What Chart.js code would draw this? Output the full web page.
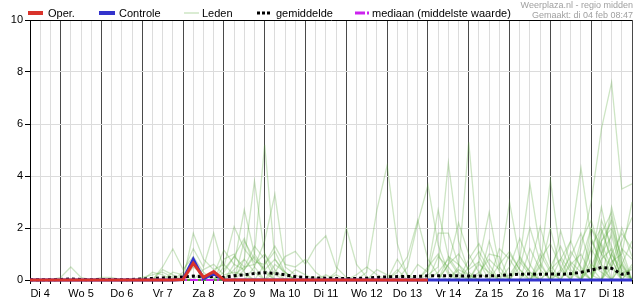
<!DOCTYPE html>
<html>
<head>
<meta charset="utf-8">
<script src="https://cdn.jsdelivr.net/npm/chart.js@4/dist/chart.umd.min.js"></script>
<style>
  body { margin: 0; background: #fff; }
  canvas { display: block; }
</style>
</head>
<body>
<canvas id="pluimChart" width="635" height="300"></canvas>
<script>
// Dagen op de x-as (label staat op 12:00), tijdstappen van 6 uur
const dagen = ['Di 4', 'Wo 5', 'Do 6', 'Vr 7', 'Za 8', 'Zo 9', 'Ma 10', 'Di 11',
               'Wo 12', 'Do 13', 'Vr 14', 'Za 15', 'Zo 16', 'Ma 17', 'Di 18'];
const uren = ['00:00', '06:00', '12:00', '18:00'];
const yTicks = [0, 2, 4, 6, 8, 10];

// Neerslag (mm) per 6 uur, vanaf di 4 06:00
const oper = [0,0,0, 0,0,0,0, 0,0,0,0, 0,0,0,0, 0.02,0.65,0.1,0.32, 0,0,0,0,
              0,0,0,0, 0,0,0,0, 0,0,0,0, 0,0,0,0, 0];
const controle = [0,0,0, 0,0,0,0, 0,0,0,0, 0,0,0,0, 0.02,0.8,0.05,0.25, 0,0,0,0,
                  0,0,0,0, 0,0,0,0, 0,0,0,0, 0,0,0,0, 0,0,0,0, 0,0,0,0,
                  0,0,0,0, 0,0,0,0, 0,0,0,0, 0];
const gemiddelde = [0.01,0.01,0.01, 0.02,0.04,0.02,0.01, 0.02,0.02,0.01,0.02,
                    0.04,0.06,0.08,0.1, 0.12,0.15,0.12,0.14, 0.1,0.16,0.2,0.25,
                    0.28,0.25,0.2,0.13, 0.1,0.08,0.07,0.06, 0.06,0.06,0.07,0.1,
                    0.12,0.13,0.13,0.14, 0.16,0.16,0.17,0.16, 0.15,0.15,0.16,0.17,
                    0.2,0.22,0.23,0.22, 0.23,0.22,0.24,0.3, 0.38,0.48,0.45,0.22, 0.28];
const mediaan = [0,0,0, 0,0,0,0, 0,0,0,0, 0,0,0,0, 0,0,0,0, 0,0,0,0,
                 0,0,0,0, 0,0,0,0, 0,0,0,0, 0,0,0,0, 0,0,0,0, 0,0,0,0,
                 0,0,0,0, 0,0,0,0, 0,0,0,0, 0];

const leden = [
  [0,0,0, 0.1,0.5,0.1,0, 0,0,0,0, 0,0,0,0.3, 0.2,0,0,0, 0,0.4,0.8,0.3, 0,0,0,0, 0,0,0,0.2, 0,0,0,0, 0,0,0,0, 0,0,0.9,0.3, 0,0,0,0, 0,0,0,0.6, 0,0,0,0, 1.2,0.5,0,0, 0],
  [0,0,0, 0,0,0,0, 0,0,0,0, 0,0,0.5,1.2, 0.4,0.9,0.3,0, 0,0,0,0, 0,0.6,0.3,0, 0,0,0,0, 0,0,0,0, 0,0,0,0, 0.5,1,0.2,0, 0,0,0,0, 0,0,0,0, 0,0.8,1.5,0.4, 0,0,1,0.2, 0],
  [0,0,0, 0,0,0,0, 0,0,0,0, 0,0,0,0, 0,1.8,0.8,0.4, 0.6,0.2,0.5,1.3, 0.8,0,0,0, 0,0,0,0, 0,0,0,0, 0,0,0,0, 0,0,0,0, 0,0.7,2.6,0.5, 0,0,0,0, 0,0,0,0, 0,1.9,0.8,0, 0.5],
  [0,0,0, 0,0,0,0, 0,0,0,0, 0,0,0,0, 0.3,1.2,0.5,1.8, 0.4,0.9,1.6,0.5, 0,0,0,0, 0,0,0,0, 0,0,0,0.4, 0.2,0,0,0, 0,0,0,0, 0,0,0,0, 0,0.9,0.3,0, 0,0,0,0, 0.8,2.8,1,0.4, 0],
  [0,0,0, 0,0,0,0, 0,0,0,0, 0,0,0,0, 0,0,0,0.2, 1.15,0.6,0.4,0.9, 0.3,0,0,0, 0,0,0,0, 0,0,0,0, 0,0.8,0.2,0, 0,0,0,0, 0,0,0,0, 0.5,1.6,0.6,0, 0,0,0,0, 0,0,0,1.2, 0.8],
  [0,0,0, 0,0,0,0, 0,0,0,0, 0,0,0,0, 0,0,0,0, 0.5,2.05,1.2,0.7, 0.6,1.1,0.3,0, 0,0,0,0, 0,0,0,0, 0,0,0,0, 0,0,0,0, 0.5,1.1,0.4,0, 0,0,0,0, 0,0,0,1.5, 2.3,1,0.5,0, 0],
  [0,0,0, 0,0,0,0, 0,0,0,0, 0,0,0,0, 0,0,0,0, 0,0.6,2.7,1, 0.4,0.8,0.2,0, 0,0,0,0, 0,0,0,0, 0,0,0,0.6, 0.3,1.8,1.8,0.6, 0,0,0,0, 0,0,0,0, 0,0,0.6,1, 0.2,0,0,0, 0],
  [0,0,0, 0,0,0,0, 0,0,0,0, 0,0,0,0, 0,0,0,0, 0,0,0.8,3.8, 1,0.2,0,0, 0,0,0.2,0, 0,0,0,0, 0,0,0,0, 0,0,0,0, 0,0,0,1.2, 0.8,0.2,0,0, 0,0,0,0, 0,1.5,2.25,0.27, 0.4],
  [0,0,0, 0,0,0,0, 0,0,0,0, 0,0,0,0, 0,0,0,0, 0,0,0.4,1, 5.2,0.8,0.3,0, 0,0,0,0, 0,0,0,0, 0,0,0,0, 0,0,0,0.4, 0.2,0,0,0, 0,0,0,0.8, 1.4,0.5,0,0, 0,1.4,0.5,2, 0.9],
  [0,0,0, 0,0,0,0, 0,0,0,0, 0,0,0,0, 0,0,0,0, 0,0,0,0.5, 1.5,3.3,0.5,0.2, 0,0,0,0, 0,0,0,0, 0,0,0,0, 0,0.3,0.8,0.2, 0,0,0,0, 0,0,1.2,0.4, 0,0,0,0, 1.6,0.6,0,0, 0],
  [0,0,0, 0,0,0,0, 0,0,0,0, 0,0,0,0, 0,0,0,0, 0,0,0,0, 0,0.3,0.9,1.1, 0.6,1.3,1.7,0.5, 0.1,0,0,0, 0,0,0,0, 0,0,0,0, 0,0.6,0.3,0, 0,0,0,0, 0,0,0,0.7, 2,1.3,0,0, 0],
  [0,0,0, 0,0,0,0, 0,0,0,0, 0,0,0,0, 0,0,0,0, 0,0,0,0, 0,0,0,0, 0,0,0,0.3, 2,0.6,0.1,0, 0,0,0,0, 0,0,0,0, 0,0,1.5,0.3, 0,0,0,0, 0,1.9,0.6,0, 0,0,0.5,1.5, 2.4],
  [0,0,0, 0,0,0,0, 0,0,0,0, 0,0,0,0, 0,0,0,0, 0,0,0,0, 0,0,0,0, 0,0,0,0, 0,0,0.3,2.7, 4.4,1.4,0.1,0, 0,0,0,0, 0,0,0,0, 1,0.4,0,0, 0,0,0,0, 0,1,1.7,0.3, 0],
  [0,0,0, 0,0,0,0, 0,0,0,0, 0,0,0,0, 0,0,0,0, 0,0,0,0, 0,0,0,0, 0,0,0,0, 0,0,0,0, 0,0.3,0.9,2.3, 0.8,0.2,0,0, 0,0,0,0, 0,0.5,2,0.7, 0,0,0,0, 0.6,0.3,0,0, 0],
  [0,0,0, 0,0,0,0, 0,0,0,0, 0,0,0,0, 0,0,0,0, 0,0,0,0, 0,0,0,0, 0,0,0,0, 0,0,0,0, 0,0,0.5,2.2, 3.65,1.35,0.3,0, 0,0,0,0, 0,0,0,0, 0.5,1.3,0.4,0, 0,2.3,1.3,0, 0],
  [0,0,0, 0,0,0,0, 0,0,0,0, 0,0,0,0, 0,0,0,0, 0,0,0,0, 0,0,0,0, 0,0,0,0, 0,0,0,0, 0,0,0,0, 0.4,2.7,0.9,0.6, 0.2,0,0,0, 0,0,0,1, 0.3,0,0,1.2, 3,5.8,7.6,3.5, 3.7],
  [0,0,0, 0,0,0,0, 0,0,0,0, 0,0,0,0, 0,0,0,0, 0,0,0,0, 0,0,0,0, 0,0,0,0, 0,0,0,0, 0,0,0,0, 0.2,0.5,4.5,1.5, 0.3,0,0,0, 0,0.7,0.2,0, 0,0,0,0, 0,0,0.7,1, 3],
  [0,0,0, 0,0,0,0, 0,0,0,0, 0,0,0,0, 0,0,0,0, 0,0,0,0, 0,0,0,0, 0,0,0,0, 0,0,0,0, 0,0,0,0, 0,0,0.6,2.2, 1,0.3,0,0, 0,0,0,0.3, 2,0.4,0,0, 0,0.8,1.2,0, 0],
  [0,0,0, 0,0,0,0, 0,0,0,0, 0,0,0,0, 0,0,0,0, 0,0,0,0, 0,0,0,0, 0,0,0,0, 0,0,0,0, 0,0,0,0, 0,0,0,0.5, 5.3,0.9,0.2,0, 0,0,0,0, 0,0,1.1,0.5, 0,0,0,0.6, 1.5],
  [0,0,0, 0,0,0,0, 0,0,0,0, 0,0,0,0, 0,0,0,0, 0,0,0,0, 0,0,0,0, 0,0,0,0, 0,0,0,0, 0,0,0,0, 0,0,0,0, 0,0.3,0.8,0.4, 3,0.8,0.3,0, 0,0,0,0, 1.3,2,0.8,0, 0],
  [0,0,0, 0,0,0,0, 0,0,0,0, 0,0,0,0, 0,0,0,0, 0,0,0,0, 0,0,0,0, 0,0,0,0, 0,0,0,0, 0,0,0,0, 0,0,0,0, 0,0,0,0, 0.2,0.8,3.7,1.2, 0.4,0,0,0, 0,0,0,0.6, 0],
  [0,0,0, 0,0,0,0, 0,0,0,0, 0,0,0,0, 0,0,0,0, 0,0,0,0, 0,0,0,0, 0,0,0,0, 0,0,0,0, 0,0,0,0, 0,0,0,0, 0,0,0,0, 0,0,0.5,2.05, 0.6,0,0,0, 2,1,2.4,0.7, 0],
  [0,0,0, 0,0,0,0, 0,0,0,0, 0,0,0,0, 0,0,0,0, 0,0,0,0, 0,0,0,0, 0,0,0,0, 0,0,0,0, 0,0,0,0, 0,0,0,0, 0,0,0,0, 0,0,0,0.5, 3.85,0.9,0.3,0, 0,0,1.9,0.5, 0],
  [0,0,0, 0,0,0,0, 0,0,0,0, 0,0,0,0, 0,0,0,0, 0,0,0,0, 0,0,0,0, 0,0,0,0, 0,0,0,0, 0,0,0,0, 0,0,0,0, 0,0,0,0, 0,0,0,0, 0,0.4,1.5,4.3, 1.6,0.6,2.8,1.2, 0],
  [0,0,0, 0,0,0,0, 0,0,0,0, 0.1,0.2,0.3,0.1, 0,0,0,0, 0.3,0.9,0.5,0.6, 1,0.4,0,0, 0,0,0,0, 0,0.2,0.5,0.2, 0,0,0,0, 0,0,0.6,1, 0.4,0.7,0,0, 0,0,0,0, 0,0,0,0, 0.5,1.5,2,0.9, 0],
  [0,0,0, 0,0,0,0, 0.1,0.1,0,0, 0,0.3,0.2,0, 0,0.5,0.2,0, 0,0,1.5,0.8, 0.4,0,0,0.4, 0.2,0,0,0, 0,0,0,0, 0,0,0,0, 0,0,0,0, 0.8,1.4,0.6,0, 0,0,0,0, 0.4,0.8,0,0, 0,1.8,2.6,0.6, 0],
  [0,0,0, 0,0,0,0, 0,0,0,0, 0,0,0.4,0.2, 0,0,0.4,0.6, 0.2,0.3,0.2,0, 0,0,0,0, 0,0.1,0,0, 0,0,0,0, 0,0.4,0,0, 0,0.9,0.5,0, 0,0,0,0.6, 1.1,0.4,0,0, 0,0,0.7,0.3, 0,0,1,1.8, 1.2],
  [0,0,0, 0,0,0,0, 0,0,0,0, 0,0,0,0, 0,0,0,0, 0.8,1,0.3,0, 0.6,1.3,0.6,0.5, 0.8,0.3,0,0, 0,0,0,0, 0,0,0,0, 0,0,0,0, 0,0.2,1,0.9, 0,0,0,0, 0,0.3,0.9,1.8, 0.5,0,0,0, 0.6]
];

// Categorieën: di 4 06:00 t/m wo 19 00:00
const tijden = [];
dagen.forEach(d => uren.forEach(u => tijden.push(d + ' ' + u)));
tijden.shift();
tijden.push('Wo 19 00:00');

Chart.defaults.font.family = '"Liberation Sans", Arial, sans-serif';
Chart.defaults.font.size = 11;
Chart.defaults.color = '#000';

const ledenSets = leden.map((reeks, i) => ({
    label: i === 0 ? 'Leden' : '',
    data: reeks,
    borderColor: 'rgba(90,170,60,0.3)',
    borderWidth: 1.3,
    pointRadius: 0,
    tension: 0,
    order: 10,
    clip: false
}));

// Legenda en bron-tekst bovenaan, zelf getekend
const legendaPlugin = {
    id: 'legenda',
    afterDraw(chart) {
        const c = chart.ctx;
        const y = 13;
        c.save();
        function lijn(x1, x2, kleur, breedte, dash) {
            c.beginPath();
            c.strokeStyle = kleur;
            c.lineWidth = breedte;
            c.setLineDash(dash || []);
            c.moveTo(x1, y);
            c.lineTo(x2, y);
            c.stroke();
        }
        lijn(28, 43, '#d9332b', 4);
        lijn(99, 115, '#3333cc', 4);
        lijn(184, 199, 'rgba(90,170,60,0.45)', 1);
        lijn(257, 272, '#000', 3, [3, 2]);
        lijn(355, 365, '#cc22ee', 3);
        lijn(367, 369, '#cc22ee', 3);
        c.setLineDash([]);
        c.font = '11px "Liberation Sans", Arial, sans-serif';
        c.fillStyle = '#000';
        c.textBaseline = 'alphabetic';
        c.fillText('Oper.', 48, 17);
        c.fillText('Controle', 119, 17);
        c.fillText('Leden', 202, 17);
        c.fillText('gemiddelde', 276, 17);
        c.fillText('mediaan (middelste waarde)', 372, 17);
        c.font = '9px "Liberation Sans", Arial, sans-serif';
        c.fillStyle = '#a0a0a0';
        c.textAlign = 'right';
        c.fillText('Weerplaza.nl - regio midden', 633, 8);
        c.fillText('Gemaakt: di 04 feb 08:47', 633, 18);
        c.restore();
    }
};

new Chart(document.getElementById('pluimChart'), {
    type: 'line',
    data: {
        labels: tijden,
        datasets: [
            { label: 'Oper.', data: oper, borderColor: '#d9332b', borderWidth: 3, pointRadius: 0, order: 0, clip: false },
            { label: 'Controle', data: controle, borderColor: '#3333cc', borderWidth: 3, pointRadius: 0, order: 1, clip: false },
            { label: 'gemiddelde', data: gemiddelde, borderColor: '#000', borderWidth: 3, borderDash: [3, 3], pointRadius: 0, order: 2, clip: false },
            { label: 'mediaan', data: mediaan, borderColor: '#cc22ee', borderWidth: 2, borderDash: [8, 3, 2, 3], pointRadius: 0, order: 3, clip: false },
            ...ledenSets
        ]
    },
    options: {
        responsive: false,
        animation: false,
        layout: { padding: { top: 20, right: 0, left: 0, bottom: 0 } },
        plugins: {
            legend: { display: false },
            tooltip: { enabled: false }
        },
        scales: {
            x: {
                offset: false,
                border: { color: '#000', width: 1 },
                grid: {
                    color: ctx => ctx.index === 0 ? '#000' : (ctx.index % 4 === 3 ? '#4a4a4a' : '#dcdcdc'),
                    tickColor: '#000',
                    tickLength: 4
                },
                ticks: {
                    autoSkip: false,
                    maxRotation: 0,
                    minRotation: 0,
                    padding: 3,
                    callback: function(value) {
                        const lab = this.getLabelForValue(value);
                        return lab.endsWith('12:00') ? lab.replace(' 12:00', '') : '';
                    }
                },
                afterFit: scale => { scale.height = 20; }
            },
            y: {
                min: yTicks[0],
                max: yTicks[yTicks.length - 1],
                border: { color: '#000', width: 1 },
                grid: {
                    color: ctx => ctx.tick && ctx.tick.value === 10 ? '#000' : '#dcdcdc',
                    tickColor: '#000',
                    tickLength: 5
                },
                ticks: { stepSize: 2, padding: 2 },
                afterFit: scale => { scale.width = 30; }
            }
        }
    },
    plugins: [legendaPlugin]
});
</script>
</body>
</html>
